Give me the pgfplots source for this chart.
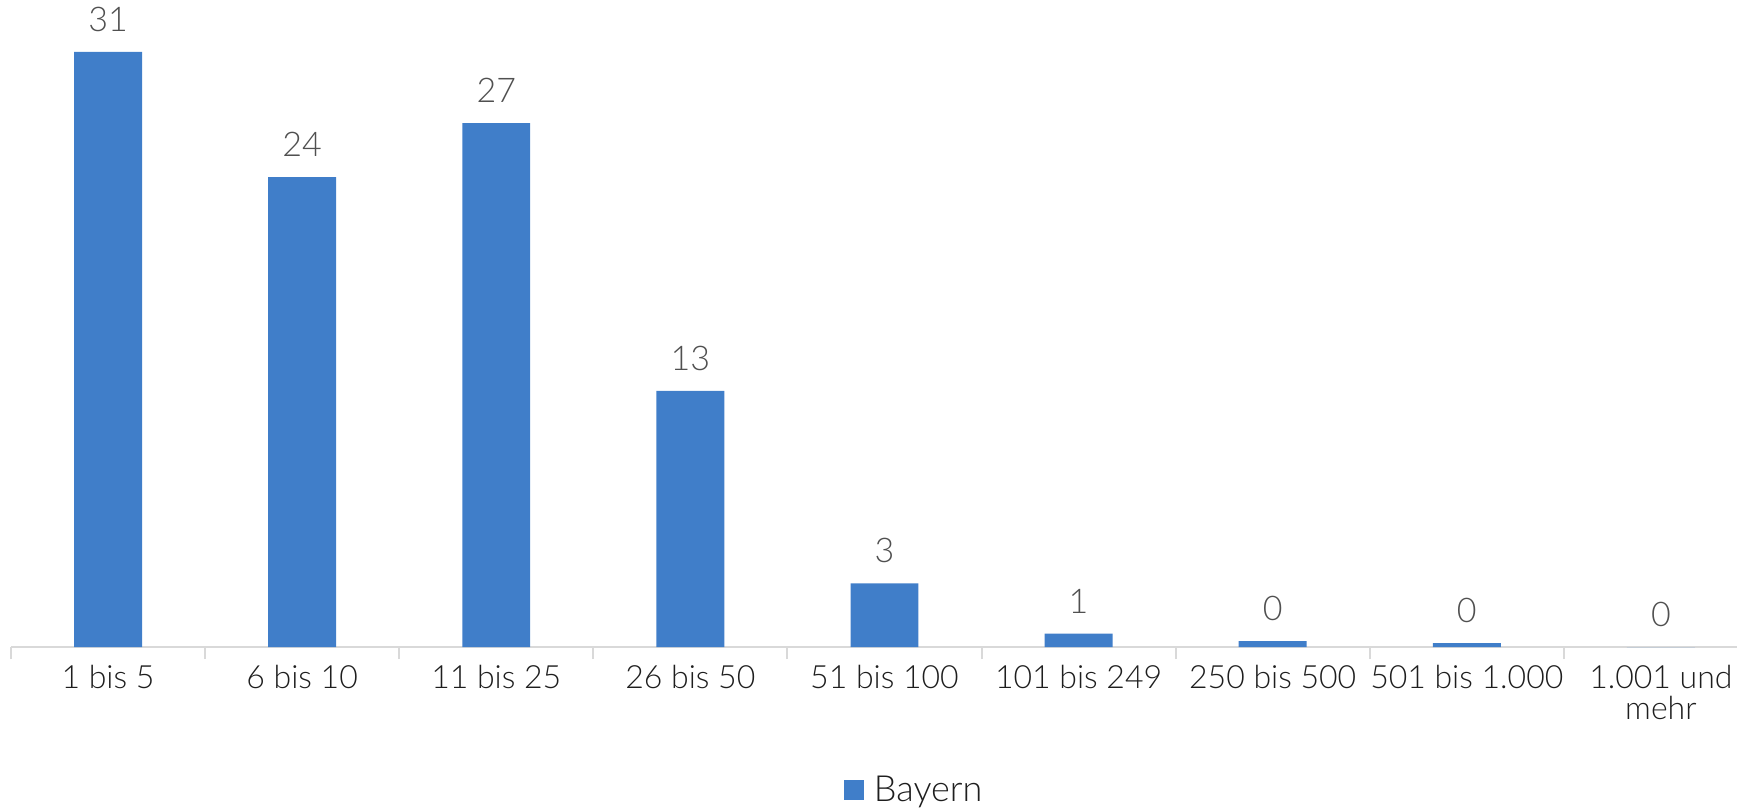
\documentclass[border=0pt]{standalone}
\usepackage{pgfplots}
\pgfplotsset{compat=1.18}
\usepackage{fontspec}
\setmainfont{Lato Light}

\definecolor{barblue}{RGB}{64,126,201}
\definecolor{axisgrey}{RGB}{217,217,217}
\definecolor{valgrey}{RGB}{80,80,80}
\definecolor{labelblack}{RGB}{30,30,30}

\begin{document}
\begin{tikzpicture}
\begin{axis}[
  name=ax,
  scale only axis,
  width=863pt, height=323.5pt,
  xmin=-0.5, xmax=8.392,
  ymin=0, ymax=33.6,
  ybar, bar width=0.35,
  axis x line*=bottom,
  axis y line=none,
  x axis line style={axisgrey, line width=1pt, -},
  xtick={0,...,8},
  xticklabels={1 bis 5, 6 bis 10, 11 bis 25, 26 bis 50, 51 bis 100,
               101 bis 249, 250 bis 500, 501 bis 1.000, 1.001 und\\mehr},
  major x tick style={draw=none},
  minor xtick={-0.5,0.5,...,8.5},
  minor tick length=6pt,
  tick align=outside,
  minor x tick style={axisgrey, line width=1pt},
  xticklabel style={font=\fontsize{16}{15.5}\selectfont, text=labelblack,
                    align=center, inner sep=0pt, anchor=north, yshift=-4.5pt},
  nodes near coords={\pgfmathprintnumber[fixed, precision=0, assume math mode=true]{\pgfplotspointmeta}},
  nodes near coords style={font=\fontsize{17}{20}\selectfont, text=valgrey,
                           inner sep=0pt, anchor=south, yshift=10pt},
  legend style={at={(axis description cs:0.4826,-0.221)}, anchor=west,
                draw=none, fill=none, inner sep=0pt, outer sep=0pt,
                column sep=5pt, font=\fontsize{18}{20}\selectfont,
                text=labelblack, nodes={inner sep=0pt}},
  legend image code/.code={\fill[barblue] (0pt,-5pt) rectangle (10pt,5pt);},
  clip=false,
]
\addplot[fill=barblue, draw=none] coordinates {
  (0,30.9) (1,24.4) (2,27.2) (3,13.3) (4,3.3)
  (5,0.7) (6,0.3) (7,0.2) (8,0.0)
};
\addlegendentry{Bayern}
\end{axis}
\pgfresetboundingbox
\path[use as bounding box] ([xshift=-5.5pt,yshift=-81.5pt]ax.south west) rectangle (ax.north east);
\end{tikzpicture}
\end{document}
